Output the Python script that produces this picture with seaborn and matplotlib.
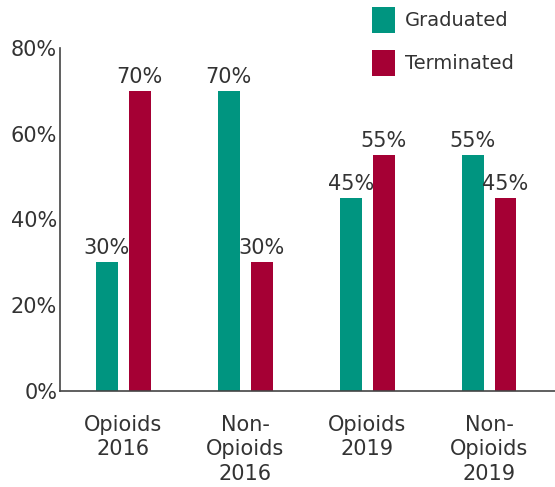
import pandas as pd
import matplotlib
matplotlib.use('Agg')
import matplotlib.pyplot as plt
import matplotlib.patches as mpatches
import seaborn as sns

# dados
grupos = ['Opioids\n2016', 'Non-\nOpioids\n2016', 'Opioids\n2019', 'Non-\nOpioids\n2019']
graduados = [30, 70, 45, 55]
terminados = [70, 30, 55, 45]
series = ['Graduated', 'Terminated']
cores = ['#009580', '#A50034']

df = pd.DataFrame({
    'grupo': grupos * 2,
    'valor': graduados + terminados,
    'status': [series[0]] * 4 + [series[1]] * 4,
})

sns.set_style('white')
plt.rcParams['font.family'] = ['DejaVu Sans']
texto = '#333333'

fig = plt.figure(figsize=(5.55, 4.87), dpi=100)
ax = fig.add_axes([60 / 555, 1 - 391 / 487, 1 - 60 / 555, (391 - 48) / 487])

sns.barplot(data=df, x='grupo', y='valor', hue='status', hue_order=series,
            palette=cores, width=0.54, gap=0.34, saturation=1, ax=ax,
            linewidth=0, legend=False)

for cont in ax.containers:
    ax.bar_label(cont, labels=[f'{v:.0f}%' for v in cont.datavalues],
                 padding=3, fontsize=15, color=texto)

ax.set_ylim(0, 80)
ax.set_xlim(-0.52, 3.54)
ax.set_yticks([0, 20, 40, 60, 80])
ax.set_yticklabels([f'{t}%' for t in [0, 20, 40, 60, 80]])
ax.set_xlabel('')
ax.set_ylabel('')
ax.tick_params(axis='both', length=0, labelsize=15, labelcolor=texto)
ax.tick_params(axis='y', pad=2)
ax.tick_params(axis='x', pad=17)
for lbl in ax.get_xticklabels():
    lbl.set_linespacing(1.3)

sns.despine(ax=ax)
for s in ['left', 'bottom']:
    ax.spines[s].set_color('#444444')
    ax.spines[s].set_linewidth(1.2)

# legenda com os quadrados
handles = [mpatches.Patch(facecolor=c, linewidth=0) for c in cores]
fig.legend(handles, series, loc='upper left', bbox_to_anchor=(372 / 555, 1 - 7 / 487),
           frameon=False, fontsize=14, handlelength=1.2, handleheight=1.7,
           handletextpad=0.5, labelspacing=0.85, borderpad=0, borderaxespad=0,
           labelcolor=texto)

fig.savefig('out.png', dpi=100)
